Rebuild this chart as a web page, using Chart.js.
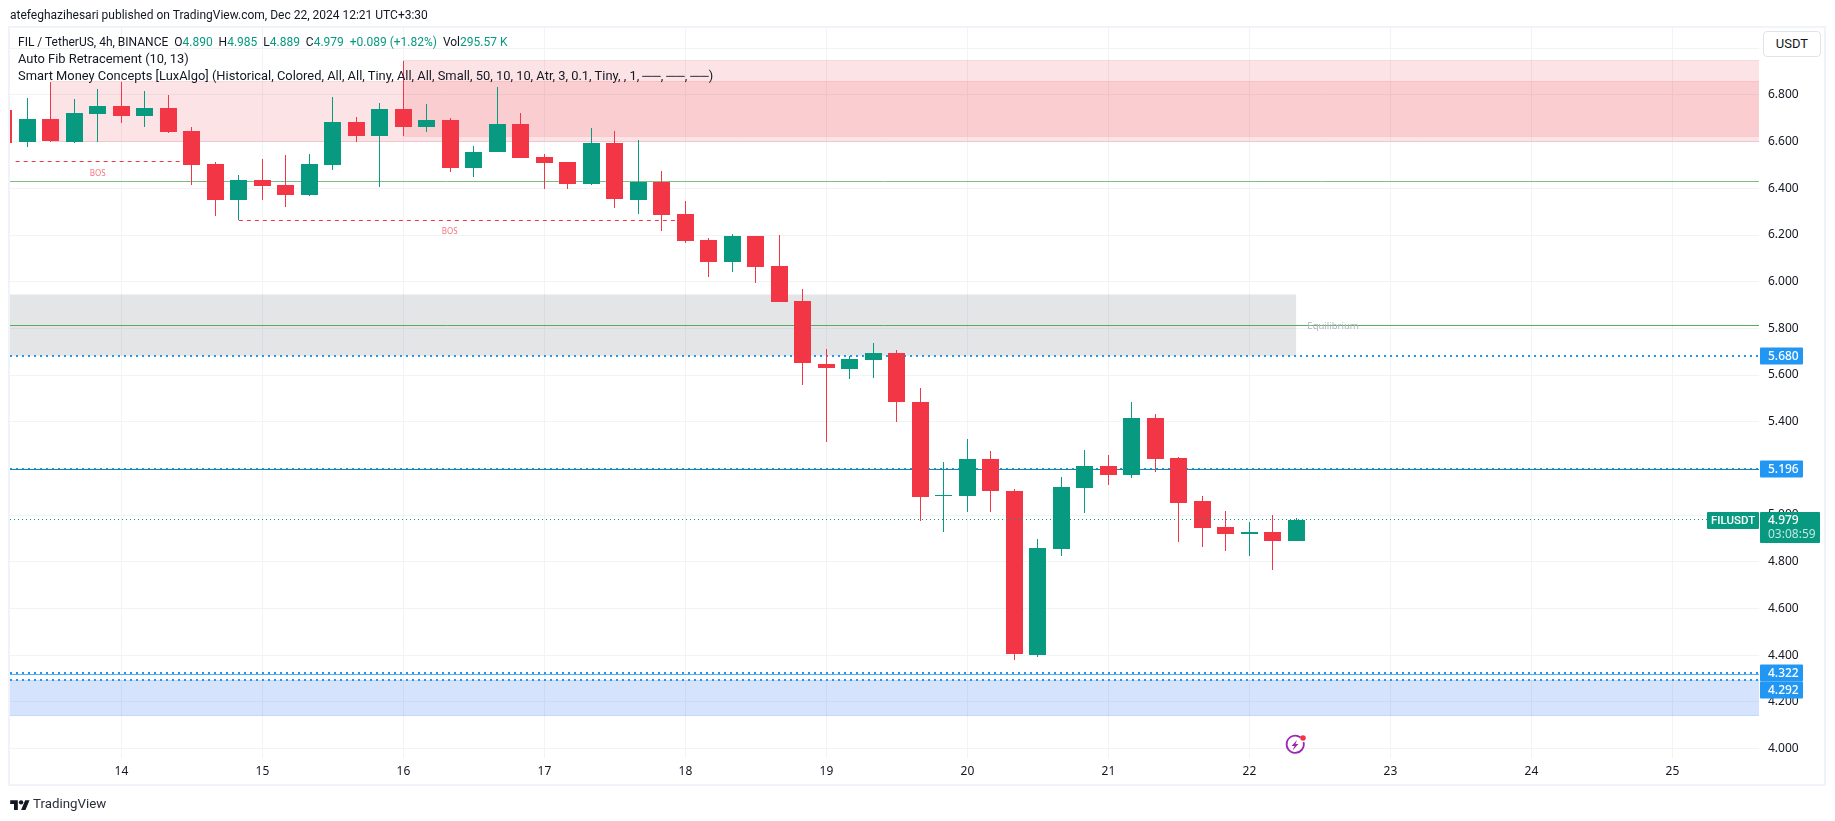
<!DOCTYPE html>
<html>
<head>
<meta charset="utf-8">
<title>FIL / TetherUS</title>
<script src="https://cdn.jsdelivr.net/npm/chart.js"></script>
<style>
  body { margin: 0; background: #fff; font-family: Roboto, sans-serif; color: #131722; }
  #chart { position: absolute; left: 0; top: 0; }
  #frame { position: absolute; left: 8px; top: 26px; width: 1818px; height: 760px; box-sizing: border-box; border: 2px solid #f0f3fa; }
  .line { position: absolute; white-space: pre; font-size: 12.9px; line-height: 18px; }
  .line b { font-weight: 400; color: #089981; }
  #unit { position: absolute; left: 1763px; top: 31px; width: 58px; height: 26px; box-sizing: border-box; border: 1px solid #e0e3eb; border-radius: 4px; font-size: 13px; line-height: 24px; text-align: center; background: #fff; }
  #bolt { position: absolute; left: 1283px; top: 733px; }
  #logo { position: absolute; left: 10px; top: 798px; }
</style>
</head>
<body>
<div id="frame"></div>
<canvas id="chart" width="1835" height="821"></canvas>
<div class="line" style="left:10px;top:6px;font-size:12px">atefeghazihesari published on TradingView.com, Dec 22, 2024 12:21 UTC+3:30</div>
<div class="line" style="left:18px;top:33px;font-size:12px">FIL / TetherUS, 4h, BINANCE  O<b>4.890</b>  H<b>4.985</b>  L<b>4.889</b>  C<b>4.979</b>  <b>+0.089 (+1.82%)</b>  Vol<b>295.57 K</b></div>
<div class="line" style="left:18px;top:50px">Auto Fib Retracement (10, 13)</div>
<div class="line" style="left:18px;top:67px">Smart Money Concepts [LuxAlgo] (Historical, Colored, All, All, Tiny, All, All, Small, 50, 10, 10, Atr, 3, 0.1, Tiny, , 1, ──, ──, ──)</div>
<div id="unit">USDT</div>
<svg id="bolt" width="24" height="24" viewBox="0 0 24 24">
  <path d="M17.5 4.5 A8.6 8.6 0 1 0 20.5 9" fill="none" stroke="#9c27b0" stroke-width="1.8"/>
  <path d="M14 7 L8.5 13 L11.5 13 L9.5 17.5 L15.5 11 L12.5 11 Z" fill="#9c27b0"/>
  <circle cx="20" cy="5" r="2.8" fill="#f23645"/>
</svg>
<svg id="logo" width="20" height="12" viewBox="0 0 36 22">
  <path d="M14 22H7V11H0V4h14v18zM28 22h-8l7.5-18h8L28 22z" fill="#131722"/>
  <circle cx="20" cy="8" r="4" fill="#131722"/>
</svg>
<div class="line" style="left:33px;top:795px;font-size:13.3px;color:#2a2e39">TradingView</div>
<script>
// 4h candles, x is the day of December
const days = [13.167, 13.333, 13.5, 13.667, 13.833, 14, 14.167, 14.333, 14.5, 14.667, 14.833, 15, 15.167, 15.333, 15.5, 15.667, 15.833, 16, 16.167, 16.333, 16.5, 16.667, 16.833, 17, 17.167, 17.333, 17.5, 17.667, 17.833, 18, 18.167, 18.333, 18.5, 18.667, 18.833, 19, 19.167, 19.333, 19.5, 19.667, 19.833, 20, 20.167, 20.333, 20.5, 20.667, 20.833, 21, 21.167, 21.333, 21.5, 21.667, 21.833, 22, 22.167, 22.333];
const opens = [6.736, 6.599, 6.697, 6.599, 6.719, 6.753, 6.71, 6.744, 6.646, 6.504, 6.35, 6.436, 6.414, 6.371, 6.5, 6.684, 6.624, 6.74, 6.663, 6.693, 6.487, 6.556, 6.676, 6.534, 6.513, 6.419, 6.594, 6.35, 6.429, 6.29, 6.179, 6.084, 6.196, 6.067, 5.917, 5.647, 5.626, 5.664, 5.694, 5.484, 5.081, 5.081, 5.24, 5.103, 4.4, 4.854, 5.116, 5.21, 5.171, 5.416, 5.244, 5.06, 4.949, 4.919, 4.927, 4.89];
const highs = [6.75, 6.787, 6.856, 6.783, 6.826, 6.856, 6.817, 6.8, 6.663, 6.511, 6.457, 6.526, 6.543, 6.547, 6.791, 6.706, 6.766, 6.946, 6.761, 6.701, 6.581, 6.834, 6.723, 6.547, 6.513, 6.659, 6.646, 6.607, 6.474, 6.346, 6.187, 6.204, 6.196, 6.2, 5.969, 5.711, 5.681, 5.737, 5.707, 5.544, 5.227, 5.326, 5.274, 5.111, 4.897, 5.163, 5.279, 5.257, 5.484, 5.433, 5.249, 5.081, 5.017, 4.97, 4.999, 4.987];
const lows = [6.59, 6.577, 6.597, 6.594, 6.599, 6.68, 6.663, 6.637, 6.414, 6.281, 6.263, 6.35, 6.32, 6.367, 6.479, 6.599, 6.406, 6.624, 6.641, 6.47, 6.449, 6.556, 6.53, 6.397, 6.397, 6.414, 6.316, 6.29, 6.217, 6.166, 6.02, 6.041, 5.994, 5.913, 5.557, 5.313, 5.583, 5.587, 5.399, 4.974, 4.927, 5.013, 5.013, 4.379, 4.391, 4.824, 5.009, 5.129, 5.159, 5.184, 4.884, 4.863, 4.846, 4.824, 4.764, 4.889];
const closes = [6.596, 6.697, 6.603, 6.723, 6.753, 6.71, 6.744, 6.641, 6.5, 6.35, 6.436, 6.41, 6.371, 6.504, 6.684, 6.624, 6.74, 6.663, 6.693, 6.487, 6.556, 6.676, 6.53, 6.509, 6.419, 6.594, 6.354, 6.429, 6.286, 6.174, 6.084, 6.196, 6.063, 5.913, 5.651, 5.63, 5.669, 5.694, 5.484, 5.077, 5.086, 5.24, 5.103, 4.404, 4.859, 5.12, 5.21, 5.171, 5.416, 5.24, 5.051, 4.944, 4.919, 4.927, 4.889, 4.979];

const dayTicks = [14, 15, 16, 17, 18, 19, 20, 21, 22, 23, 24, 25];
const priceTicks = [4, 4.2, 4.4, 4.6, 4.8, 5, 5.2, 5.4, 5.6, 5.8, 6, 6.2, 6.4, 6.6, 6.8, 7];

// supply, gray equilibrium and demand boxes
const zoneFrom = [13.5, 16, 13.21, 13.21];
const zoneTo = [25.614, 25.614, 22.333, 25.614];
const zoneTop = [6.856, 6.946, 5.943, 4.289];
const zoneBottom = [6.6, 6.624, 5.683, 4.141];

const solidLevels = [6.429, 5.813, 5.196, 4.318];
const dottedLevels = [5.68, 5.196, 4.322, 4.292];
const lastPrice = 4.979;
const lastCountdown = "03:08:59";
const symbolName = "FILUSDT";

const bosPrices = [6.516, 6.263];
const bosFrom = [13.25, 14.833];
const bosTo = [14.5, 18];

const noteDays = [13.832, 16.328, 22.593];
const notePrices = [6.463, 6.214, 5.808];
const noteTexts = ["BOS", "BOS", "Equilibrium"];

const UP = "#089981";
const DOWN = "#f23645";
const BLUE = "#2196f3";
const GRID = "#f2f3f5";
const FONT = '"Noto Sans", sans-serif';
const X_MIN = 13.21;
const X_MAX = 25.614;

function hLine(price, from, to, color, width, dash, order) {
  return {
    type: "line",
    data: [{ x: from, y: price }, { x: to, y: price }],
    borderColor: color,
    borderWidth: width,
    borderDash: dash || [],
    pointRadius: 0,
    fill: false,
    order: order
  };
}

function zone(i, fillColor, edgeColor) {
  const top = hLine(zoneTop[i], zoneFrom[i], zoneTo[i], edgeColor, 1, null, 40);
  top.fill = { target: { value: zoneBottom[i] }, above: fillColor, below: fillColor };
  return [top, hLine(zoneBottom[i], zoneFrom[i], zoneTo[i], edgeColor, 1, null, 40)];
}

const candleColors = opens.map((o, i) => (closes[i] >= o ? UP : DOWN));

const datasets = [
  ...zone(0, "rgba(235,50,65,0.13)", "rgba(235,50,65,0.14)"),
  ...zone(1, "rgba(235,50,65,0.13)", "rgba(235,50,65,0.14)"),
  ...zone(2, "rgba(120,123,134,0.2)", "rgba(120,123,134,0)"),
  ...zone(3, "rgba(45,115,245,0.2)", "rgba(45,115,245,0.2)"),
  hLine(solidLevels[0], X_MIN, X_MAX, "#7dbf85", 1, null, 30),
  hLine(solidLevels[1], X_MIN, X_MAX, "#57ad62", 1, null, 30),
  ...dottedLevels.map(p => hLine(p, X_MIN, X_MAX, BLUE, 2, [2, 4], 25)),
  hLine(solidLevels[2], X_MIN, X_MAX, "#1488a8", 1, null, 20),
  hLine(solidLevels[3], X_MIN, X_MAX, "#5ab0f7", 1, null, 20),
  ...bosPrices.map((p, i) => hLine(p, bosFrom[i], bosTo[i], DOWN, 1, [4, 4], 20)),
  {
    type: "bar",
    data: days.map((d, i) => ({ x: d, y: [lows[i], highs[i]] })),
    backgroundColor: candleColors,
    grouped: false,
    barPercentage: 1,
    categoryPercentage: 1,
    barThickness: 1,
    maxBarThickness: 1,
    inflateAmount: 0,
    order: 10
  },
  {
    type: "bar",
    data: days.map((d, i) => ({ x: d, y: [opens[i], closes[i]] })),
    backgroundColor: candleColors,
    grouped: false,
    barPercentage: 1,
    categoryPercentage: 1,
    barThickness: 17,
    maxBarThickness: 17,
    inflateAmount: 0,
    order: 5
  },
  hLine(lastPrice, X_MIN, X_MAX, UP, 1, [1, 3], 1)
];

// keep wicks and levels on whole pixels, otherwise they come out blurred
const snapPixels = {
  id: "snapPixels",
  afterDatasetsUpdate(chart) {
    chart.data.datasets.forEach((ds, i) => {
      const meta = chart.getDatasetMeta(i);
      if (ds.type === "bar") {
        meta.data.forEach(el => {
          el.x = Math.floor(el.x) + 0.5;
          el.y = Math.round(el.y);
          el.base = Math.round(el.base);
          if (el.y === el.base) el.base += 1;
        });
      } else {
        meta.data.forEach(el => {
          el.y = ds.borderWidth % 2 ? Math.floor(el.y) + 0.5 : Math.round(el.y);
        });
      }
    });
  }
};

function tag(ctx, left, top, w, h, color) {
  ctx.fillStyle = color;
  ctx.beginPath();
  ctx.roundRect(left, top, w, h, 1);
  ctx.fill();
}

const overlays = {
  id: "overlays",
  afterDatasetsDraw(chart) {
    const ctx = chart.ctx;
    const xs = chart.scales.x;
    const ys = chart.scales.y;
    ctx.save();
    ctx.textAlign = "center";
    ctx.textBaseline = "middle";
    noteTexts.forEach((t, i) => {
      const isBos = t === "BOS";
      ctx.font = (isBos ? 8 : 9.5) + "px " + FONT;
      ctx.fillStyle = isBos ? "rgba(242,54,69,0.7)" : "#b2b5be";
      ctx.fillText(t, xs.getPixelForValue(noteDays[i]), ys.getPixelForValue(notePrices[i]));
    });
    ctx.restore();
  },
  afterDraw(chart) {
    const ctx = chart.ctx;
    const ys = chart.scales.y;
    const a = chart.chartArea;
    ctx.save();
    ctx.textBaseline = "middle";
    ctx.font = "500 12px " + FONT;

    // blue price tags, pushed down when they would overlap
    let lastBottom = -1;
    dottedLevels.forEach(p => {
      let mid = Math.round(ys.getPixelForValue(p));
      if (mid - 8.5 < lastBottom) mid = lastBottom + 8.5;
      lastBottom = mid + 8.5;
      tag(ctx, a.right + 1, mid - 8.5, 43, 17, BLUE);
      ctx.fillStyle = "#fff";
      ctx.fillText(p.toFixed(3), a.right + 9, mid + 0.5);
    });

    // last price tag with countdown and symbol name
    const y = Math.round(ys.getPixelForValue(lastPrice));
    tag(ctx, a.right + 1, y - 8, 60, 31, UP);
    tag(ctx, a.right - 52, y - 8, 52, 17, UP);
    ctx.fillStyle = "#fff";
    ctx.fillText(lastPrice.toFixed(3), a.right + 9, y + 1);
    ctx.fillStyle = "rgba(255,255,255,0.75)";
    ctx.font = "12px " + FONT;
    ctx.fillText(lastCountdown, a.right + 9, y + 15);
    ctx.fillStyle = "#fff";
    ctx.font = "500 11.5px Roboto, sans-serif";
    ctx.fillText(symbolName, a.right - 48, y + 1);
    ctx.restore();
  }
};

new Chart(document.getElementById("chart").getContext("2d"), {
  data: { datasets: datasets },
  plugins: [snapPixels, overlays],
  options: {
    responsive: false,
    animation: false,
    events: [],
    layout: { padding: { left: 10, top: 28, right: 11, bottom: 37 } },
    plugins: { legend: { display: false }, tooltip: { enabled: false } },
    scales: {
      x: {
        type: "linear",
        offset: false,
        min: X_MIN,
        max: X_MAX,
        afterBuildTicks: axis => { axis.ticks = dayTicks.map(v => ({ value: v })); },
        afterFit: axis => { axis.height = 26; },
        grid: { color: GRID, drawTicks: false, offset: false },
        border: { display: false },
        ticks: {
          color: "#131722",
          padding: 6,
          maxRotation: 0,
          autoSkip: false,
          font: { family: FONT, size: 12 },
          callback: v => String(v)
        }
      },
      y: {
        type: "linear",
        position: "right",
        min: 3.959,
        max: 7.087,
        afterBuildTicks: axis => { axis.ticks = priceTicks.map(v => ({ value: v })); },
        afterFit: axis => { axis.width = 65; },
        grid: { color: GRID, drawTicks: false },
        border: { display: false },
        ticks: {
          color: "#131722",
          padding: 9,
          autoSkip: false,
          font: { family: FONT, size: 12 },
          callback: v => (v === 7 ? "" : v.toFixed(3))
        }
      }
    }
  }
});
</script>
</body>
</html>
